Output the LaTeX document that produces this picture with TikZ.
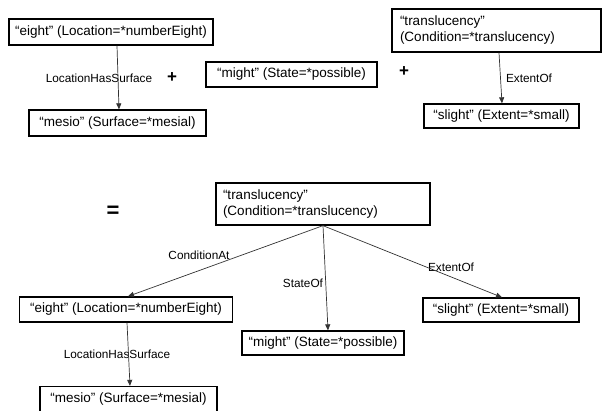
\documentclass[tikz,border=0pt]{standalone}
\usepackage{fontspec}
\setmainfont{Liberation Sans}
\usetikzlibrary{arrows.meta}
\begin{document}
\begin{tikzpicture}[x=1pt,y=-1pt,
  box/.style={draw=black,line width=1.3pt,inner sep=0pt,font=\fontsize{13.5}{16}\selectfont,anchor=center},
  tbox/.style={box,align=left,inner xsep=8pt},
  lbl/.style={inner sep=0pt,font=\fontsize{11.8}{14}\selectfont},
  op/.style={inner sep=0pt,font=\bfseries\fontsize{17}{20}\selectfont},
  conn/.style={draw=black!80,line width=0.7pt,-{Triangle[length=6pt,width=5pt]}}]
\useasboundingbox (0,0) rectangle (603,411);
% top row
\node[box,minimum width=204pt,minimum height=26pt] (e1) at (111,32) {“eight” (Location=*numberEight)};
\node[box,minimum width=177pt,minimum height=26pt] (m1) at (117.5,123) {“mesio” (Surface=*mesial)};
\node[box,minimum width=171pt,minimum height=25pt] (mi1) at (291.5,74.5) {“might” (State=*possible)};
\node[tbox,minimum width=209pt,minimum height=43pt,text width=193pt] (t1) at (496.5,30.5) {“translucency”\\(Condition=*translucency)};
\node[box,minimum width=155pt,minimum height=24pt] (s1) at (501.5,116) {“slight” (Extent=*small)};
\node[lbl] (l1) at (99,78) {LocationHasSurface};
\node[lbl] (l2) at (529,78) {ExtentOf};
\node[op] (p1) at (172,78) {+};
\node[op] (p2) at (404,72) {+};
\draw[conn] ([xshift=6pt]e1.south) -- ([xshift=1.5pt]m1.north);
\draw[conn] ([xshift=2.5pt]t1.south) -- ([xshift=0.5pt]s1.north);
% bottom
\node[op,font=\bfseries\fontsize{22}{24}\selectfont] (eq) at (113,212) {=};
\node[tbox,minimum width=214pt,minimum height=42pt,text width=200pt,inner xsep=7pt] (t2) at (323,204) {“translucency”\\(Condition=*translucency)};
\node[box,minimum width=213pt,minimum height=25pt] (e2) at (126,309.5) {“eight” (Location=*numberEight)};
\node[box,minimum width=177pt,minimum height=25pt] (m2) at (128.5,399) {“mesio” (Surface=*mesial)};
\node[box,minimum width=162pt,minimum height=24pt] (mi2) at (323,343) {“might” (State=*possible)};
\node[box,minimum width=156pt,minimum height=24pt] (s2) at (501,310) {“slight” (Extent=*small)};
\node[lbl] (l3) at (199,255) {ConditionAt};
\node[lbl] (l4) at (303,283) {StateOf};
\node[lbl] (l5) at (451,267) {ExtentOf};
\node[lbl] (l6) at (117,354) {LocationHasSurface};
\draw[conn] (t2.south) -- ([xshift=2pt]e2.north);
\draw[conn] (t2.south) -- ([xshift=5pt]mi2.north);
\draw[conn] (t2.south) -- ([xshift=1pt]s2.north);
\draw[conn] ([xshift=1pt]e2.south) -- ([xshift=1.5pt]m2.north);
\end{tikzpicture}
\end{document}
